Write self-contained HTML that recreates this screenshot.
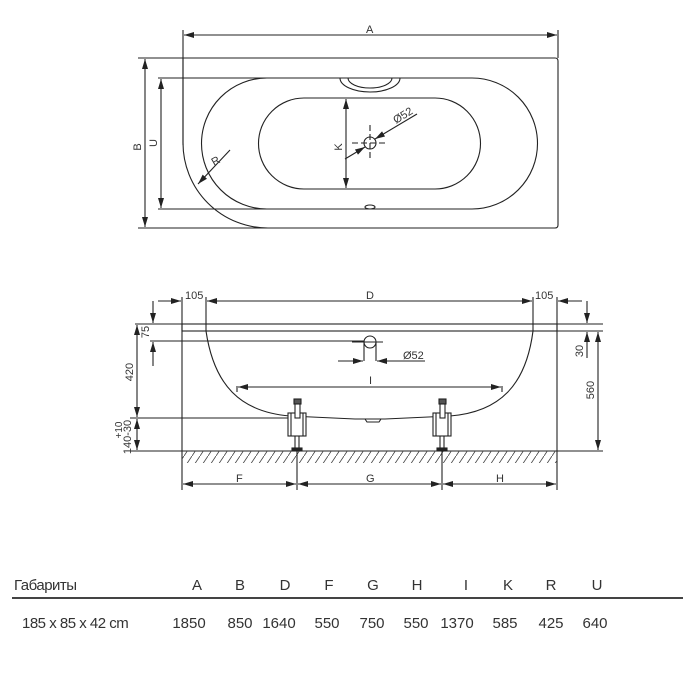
<!DOCTYPE html>
<html><head><meta charset="utf-8"><style>
html,body{margin:0;padding:0;background:#fff;}
svg{display:block;}
text{font-family:"Liberation Sans",sans-serif;fill:#333;}
</style></head><body>
<svg width="700" height="700" viewBox="0 0 700 700" xmlns="http://www.w3.org/2000/svg">
<defs>
<marker id="a" viewBox="0 0 10 6" refX="10" refY="3" markerWidth="10" markerHeight="6" orient="auto-start-reverse" markerUnits="userSpaceOnUse"><path d="M0,0 L10,3 L0,6 z" fill="#222"/></marker>
<pattern id="h" width="8" height="12" patternUnits="userSpaceOnUse"><path d="M0,12 L8,0" stroke="#444" stroke-width="0.8"/></pattern>
</defs>
<g fill="none" stroke="#222" stroke-width="1.1">
<!-- TOP VIEW -->
<line x1="183" y1="30" x2="183" y2="145"/>
<line x1="558" y1="30" x2="558" y2="58"/>
<line x1="184" y1="35" x2="557" y2="35" marker-start="url(#a)" marker-end="url(#a)"/>
<path d="M183,58 L555,58 Q558,58 558,61 L558,225 Q558,228 555,228 L268,228 A85,85 0 0 1 183,143 Z"/>
<line x1="138" y1="58" x2="183" y2="58"/>
<line x1="138" y1="228" x2="268" y2="228"/>
<line x1="145" y1="59" x2="145" y2="227" marker-start="url(#a)" marker-end="url(#a)"/>
<path d="M267,78 L472,78 A65.5,65.5 0 0 1 472,209 L267,209 A65.5,65.5 0 0 1 267,78 Z"/>
<line x1="158" y1="78" x2="267" y2="78"/>
<line x1="158" y1="209" x2="267" y2="209"/>
<line x1="161" y1="79" x2="161" y2="208" marker-start="url(#a)" marker-end="url(#a)"/>
<path d="M304,98 L435,98 A45.5,45.5 0 0 1 435,189 L304,189 A45.5,45.5 0 0 1 304,98 Z"/>
<path d="M340,78 A30,14 0 0 0 400,78"/>
<path d="M348,78 A22,10 0 0 0 392,78"/>
<ellipse cx="370" cy="207" rx="5" ry="2"/>
<line x1="346" y1="99" x2="346" y2="188" marker-start="url(#a)" marker-end="url(#a)"/>
<circle cx="370" cy="143" r="6"/>
<line x1="352" y1="143" x2="388" y2="143" stroke-dasharray="6,3"/>
<line x1="370" y1="125" x2="370" y2="161" stroke-dasharray="6,3"/>
<line x1="345" y1="159" x2="365" y2="147" marker-end="url(#a)"/>
<line x1="417" y1="114" x2="375" y2="139" marker-end="url(#a)"/>
<line x1="230" y1="150" x2="198" y2="184" marker-end="url(#a)"/>
<!-- SIDE VIEW -->
<line x1="182" y1="297" x2="182" y2="490"/>
<line x1="557" y1="297" x2="557" y2="490"/>
<line x1="206" y1="297" x2="206" y2="331"/>
<line x1="533" y1="297" x2="533" y2="331"/>
<line x1="158" y1="301" x2="181" y2="301" marker-end="url(#a)"/>
<line x1="207" y1="301" x2="532" y2="301" marker-start="url(#a)" marker-end="url(#a)"/>
<line x1="558" y1="301" x2="582" y2="301" marker-start="url(#a)"/>
<rect x="182" y="324" width="375" height="7"/>
<line x1="135" y1="324" x2="182" y2="324"/>
<line x1="557" y1="324" x2="603" y2="324"/>
<line x1="557" y1="331" x2="603" y2="331"/>
<path d="M206,331 C214,385 240,412 290,416 L355,419 L385,419 L450,416 C500,412 526,385 533,331"/>
<path d="M365,419 L367,422 L379,422 L381,419"/>
<line x1="150" y1="341" x2="364" y2="341"/>
<circle cx="370" cy="342" r="6"/>
<line x1="352" y1="342" x2="383" y2="342"/>
<line x1="364" y1="342" x2="364" y2="361"/>
<line x1="376" y1="342" x2="376" y2="361"/>
<line x1="338" y1="361" x2="363" y2="361" marker-end="url(#a)"/>
<line x1="425" y1="361" x2="377" y2="361" marker-end="url(#a)"/>
<line x1="153" y1="301" x2="153" y2="323" marker-end="url(#a)"/>
<line x1="153" y1="366" x2="153" y2="342" marker-end="url(#a)"/>
<line x1="137" y1="325" x2="137" y2="417" marker-start="url(#a)" marker-end="url(#a)"/>
<line x1="130" y1="418" x2="290" y2="418"/>
<line x1="137" y1="419" x2="137" y2="450" marker-start="url(#a)" marker-end="url(#a)"/>
<line x1="237" y1="386" x2="237" y2="392"/>
<line x1="502" y1="386" x2="502" y2="392"/>
<line x1="238" y1="387" x2="501" y2="387" marker-start="url(#a)" marker-end="url(#a)"/>
<line x1="587" y1="301" x2="587" y2="323" marker-end="url(#a)"/>
<line x1="587" y1="358" x2="587" y2="332" marker-end="url(#a)"/>
<line x1="598" y1="332" x2="598" y2="450" marker-start="url(#a)" marker-end="url(#a)"/>
<line x1="130" y1="451" x2="603" y2="451"/>
<rect x="182" y="451" width="375" height="12" fill="url(#h)" stroke="none"/>
<g id="ft">
<rect x="288" y="413" width="18" height="23" fill="#fff"/>
<line x1="291" y1="413" x2="291" y2="436"/><line x1="303" y1="413" x2="303" y2="436"/>
<rect x="294" y="399" width="7" height="5" fill="#555"/>
<rect x="295" y="404" width="5" height="14" fill="#fff"/>
<line x1="295" y1="436" x2="295" y2="448"/><line x1="299" y1="436" x2="299" y2="448"/>
<rect x="292" y="448" width="10" height="3" fill="#222"/>
</g>
<use href="#ft" x="145"/>
<line x1="297" y1="451" x2="297" y2="490"/>
<line x1="442" y1="451" x2="442" y2="490"/>
<line x1="183" y1="484" x2="296" y2="484" marker-start="url(#a)" marker-end="url(#a)"/>
<line x1="298" y1="484" x2="441" y2="484" marker-start="url(#a)" marker-end="url(#a)"/>
<line x1="443" y1="484" x2="556" y2="484" marker-start="url(#a)" marker-end="url(#a)"/>
<line x1="12" y1="598" x2="683" y2="598" stroke="#444" stroke-width="2"/>
</g>
<g font-size="11">
<text x="366" y="33">A</text>
<text x="141" y="147" transform="rotate(-90 141 147)" text-anchor="middle">B</text>
<text x="157" y="143" transform="rotate(-90 157 143)" text-anchor="middle">U</text>
<text x="342" y="147" transform="rotate(-90 342 147)" text-anchor="middle">K</text>
<text x="396" y="124" transform="rotate(-32 396 124)">Ø52</text>
<text x="214" y="166" transform="rotate(-30 214 166)">R</text>
<text x="185" y="299">105</text>
<text x="366" y="299">D</text>
<text x="535" y="299">105</text>
<text x="403" y="359">Ø52</text>
<text x="369" y="384">I</text>
<text x="149" y="332" transform="rotate(-90 149 332)" text-anchor="middle">75</text>
<text x="133" y="372" transform="rotate(-90 133 372)" text-anchor="middle">420</text>
<text x="122" y="430" transform="rotate(-90 122 430)" text-anchor="middle" font-size="10">+10</text>
<text x="131" y="437" transform="rotate(-90 131 437)" text-anchor="middle">140-30</text>
<text x="583" y="351" transform="rotate(-90 583 351)" text-anchor="middle">30</text>
<text x="594" y="390" transform="rotate(-90 594 390)" text-anchor="middle">560</text>
<text x="236" y="482">F</text>
<text x="366" y="482">G</text>
<text x="496" y="482">H</text>
</g>
<g font-size="15">
<text x="14" y="590" letter-spacing="-0.5">Габариты</text>
<text x="197" y="590" text-anchor="middle">A</text>
<text x="240" y="590" text-anchor="middle">B</text>
<text x="285" y="590" text-anchor="middle">D</text>
<text x="329" y="590" text-anchor="middle">F</text>
<text x="373" y="590" text-anchor="middle">G</text>
<text x="417" y="590" text-anchor="middle">H</text>
<text x="466" y="590" text-anchor="middle">I</text>
<text x="508" y="590" text-anchor="middle">K</text>
<text x="551" y="590" text-anchor="middle">R</text>
<text x="597" y="590" text-anchor="middle">U</text>
<text x="22" y="628" letter-spacing="-0.5">185 x 85 x 42 cm</text>
<text x="189" y="628" text-anchor="middle">1850</text>
<text x="240" y="628" text-anchor="middle">850</text>
<text x="279" y="628" text-anchor="middle">1640</text>
<text x="327" y="628" text-anchor="middle">550</text>
<text x="372" y="628" text-anchor="middle">750</text>
<text x="416" y="628" text-anchor="middle">550</text>
<text x="457" y="628" text-anchor="middle">1370</text>
<text x="505" y="628" text-anchor="middle">585</text>
<text x="551" y="628" text-anchor="middle">425</text>
<text x="595" y="628" text-anchor="middle">640</text>
</g>
</svg>
</body></html>
